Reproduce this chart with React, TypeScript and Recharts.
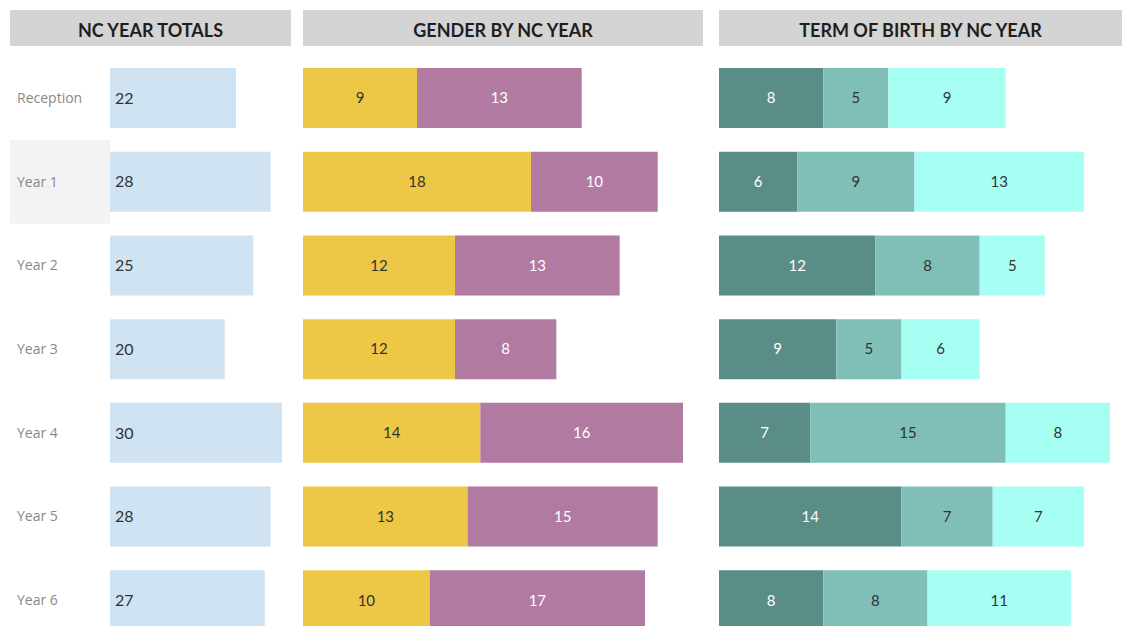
import { BarChart, Bar, XAxis, YAxis, LabelList } from "recharts";

const years = ["Reception", "Year 1", "Year 2", "Year 3", "Year 4", "Year 5", "Year 6"];
const totals = [22, 28, 25, 20, 30, 28, 27];
const girls = [9, 18, 12, 12, 14, 13, 10];
const boys = [13, 10, 13, 8, 16, 15, 17];
const autumn = [8, 6, 12, 9, 7, 14, 8];
const spring = [5, 9, 8, 5, 15, 7, 8];
const summer = [9, 13, 5, 6, 8, 7, 11];

const highlighted = "Year 1";

const data = years.map((year, i) => ({
  year,
  total: totals[i],
  girls: girls[i],
  boys: boys[i],
  autumn: autumn[i],
  spring: spring[i],
  summer: summer[i],
}));

const FONT = "Lato, 'Open Sans', sans-serif";
const LABEL_FONT = "'Open Sans', sans-serif";
const CHART_TOP = 56;
const CHART_H = 586;

function Header({ left, width, title }: { left: number; width: number; title: string }) {
  return (
    <div
      style={{
        position: "absolute",
        left,
        top: 10,
        width,
        height: 36,
        background: "#d4d4d4",
        color: "#1e1e1e",
        fontWeight: 700,
        fontSize: 18,
        lineHeight: "40px",
        textAlign: "center",
      }}
    >
      {title}
    </div>
  );
}

function YearTick(props: any) {
  const { y, payload } = props;
  const on = payload.value === highlighted;
  return (
    <g>
      {on && <rect x={0} y={y - 42} width={100} height={84} fill="#f3f3f3" />}
      <text x={7} y={y} dy={5} fontSize={14} fill="#888" fontFamily={LABEL_FONT}>
        {payload.value}
      </text>
    </g>
  );
}

export default function App() {
  return (
    <div
      style={{
        position: "absolute",
        left: 0,
        top: 0,
        width: 1123,
        height: 626,
        overflow: "hidden",
        background: "#fff",
        fontFamily: FONT,
      }}
    >
      <Header left={10} width={281} title="NC YEAR TOTALS" />
      <Header left={303} width={400} title="GENDER BY NC YEAR" />
      <Header left={719} width={403} title="TERM OF BIRTH BY NC YEAR" />

      <div style={{ position: "absolute", left: 10, top: CHART_TOP }}>
        <BarChart width={272} height={CHART_H} data={data} layout="vertical" margin={{ top: 0, right: 0, bottom: 0, left: 0 }}>
          <XAxis type="number" domain={[0, 30]} hide />
          <YAxis type="category" dataKey="year" width={100} axisLine={false} tickLine={false} tick={<YearTick />} />
          <Bar dataKey="total" fill="#cfe3f2" barSize={60} isAnimationActive={false}>
            <LabelList dataKey="total" position="insideLeft" offset={5} fill="#333" fontSize={16} fontFamily={FONT} />
          </Bar>
        </BarChart>
      </div>

      <div style={{ position: "absolute", left: 303, top: CHART_TOP }}>
        <BarChart width={380} height={CHART_H} data={data} layout="vertical" margin={{ top: 0, right: 0, bottom: 0, left: 0 }}>
          <XAxis type="number" domain={[0, 30]} hide />
          <YAxis type="category" dataKey="year" hide />
          <Bar dataKey="girls" stackId="g" fill="#ecc846" barSize={60} isAnimationActive={false}>
            <LabelList dataKey="girls" position="center" fill="#333" fontSize={15} fontFamily={FONT} />
          </Bar>
          <Bar dataKey="boys" stackId="g" fill="#b07aa1" barSize={60} isAnimationActive={false}>
            <LabelList dataKey="boys" position="center" fill="#fff" fontSize={15} fontFamily={FONT} />
          </Bar>
        </BarChart>
      </div>

      <div style={{ position: "absolute", left: 719, top: CHART_TOP }}>
        <BarChart width={391} height={CHART_H} data={data} layout="vertical" margin={{ top: 0, right: 0, bottom: 0, left: 0 }}>
          <XAxis type="number" domain={[0, 30]} hide />
          <YAxis type="category" dataKey="year" hide />
          <Bar dataKey="autumn" stackId="t" fill="#5b8d87" barSize={60} isAnimationActive={false}>
            <LabelList dataKey="autumn" position="center" fill="#fff" fontSize={15} fontFamily={FONT} />
          </Bar>
          <Bar dataKey="spring" stackId="t" fill="#7fbfb8" barSize={60} isAnimationActive={false}>
            <LabelList dataKey="spring" position="center" fill="#333" fontSize={15} fontFamily={FONT} />
          </Bar>
          <Bar dataKey="summer" stackId="t" fill="#a7fff4" barSize={60} isAnimationActive={false}>
            <LabelList dataKey="summer" position="center" fill="#333" fontSize={15} fontFamily={FONT} />
          </Bar>
        </BarChart>
      </div>
    </div>
  );
}
